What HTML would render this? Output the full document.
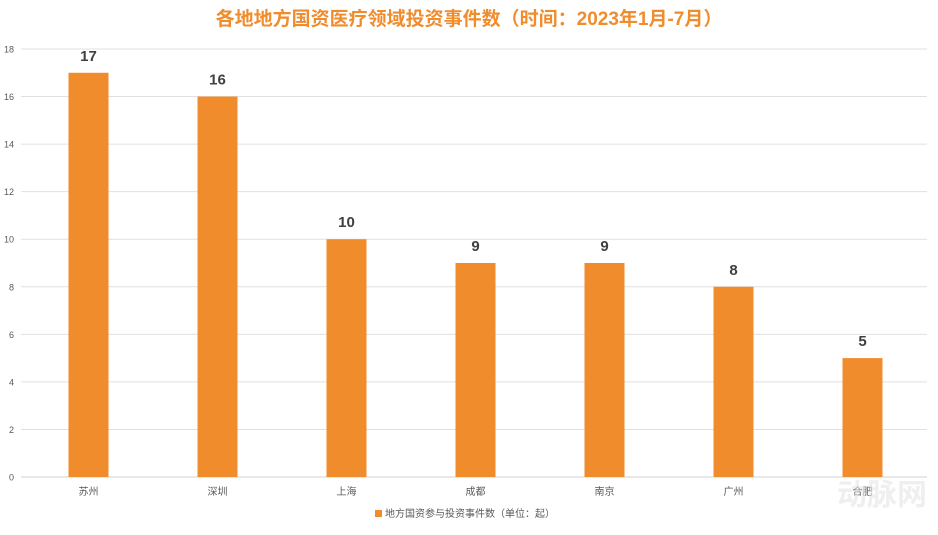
<!DOCTYPE html>
<html><head><meta charset="utf-8"><style>
body{margin:0;background:#fff;}
svg text{font-family:"Liberation Sans","Noto Sans CJK SC",sans-serif;}
</style></head><body>
<svg width="938" height="530">
<text x="469" y="25" text-anchor="middle" font-size="19" font-weight="bold" fill="#F08C2C">各地地方国资医疗领域投资事件数（时间：2023年1月-7月）</text>
<g id="grid"></g><g id="bars"></g><g id="labels"></g>
<text x="882" y="505" text-anchor="middle" font-size="30" font-weight="bold" fill="#e6e6e6" opacity="0.6">动脉网</text>
<rect x="375" y="510" width="7" height="7" fill="#F08C2C"/>
<text x="385" y="517" font-size="10" fill="#595959">地方国资参与投资事件数（单位：起）</text>
</svg>
<script>
const categories=["苏州","深圳","上海","成都","南京","广州","合肥"];
const values=[17,16,10,9,9,8,5];
const ticks=[0,2,4,6,8,10,12,14,16,18];
const NS="http://www.w3.org/2000/svg";
const x0=24,x1=927,y0=477,y1=49,maxV=18;
const y=v=>y0-(v/maxV)*(y0-y1);
const band=(x1-x0)/categories.length;
const xc=i=>x0+band*(i+0.5);
function mk(t,a,p){const e=document.createElementNS(NS,t);for(const k in a)e.setAttribute(k,a[k]);p.appendChild(e);return e;}
const g=document.getElementById('grid'),b=document.getElementById('bars'),l=document.getElementById('labels');
ticks.forEach(t=>{
 const ln=mk('line',{x1:x0-3,x2:x1,y1:y(t),y2:y(t),stroke:t===0?'#d0d0d0':'#e0e0e0','stroke-width':1},g);
 
 
 const tx=mk('text',{x:14,y:y(t)+3.5,'text-anchor':'end','font-size':9,fill:'#595959'},g);
 tx.textContent=t;
 
 
});
categories.forEach((c,i)=>{
 const r=mk('rect',{x:xc(i)-20,y:y(values[i]),width:40,height:y0-y(values[i]),fill:'#F08C2C'},b);
 
 
 const v=mk('text',{x:xc(i),y:y(values[i])-12,'text-anchor':'middle','font-size':15,'font-weight':'bold',fill:'#404040'},l);
 v.textContent=values[i];
 
 
 const cx=mk('text',{x:xc(i),y:495,'text-anchor':'middle','font-size':10,fill:'#595959'},l);
 cx.textContent=c;
 
 
});
</script>
</body></html>
